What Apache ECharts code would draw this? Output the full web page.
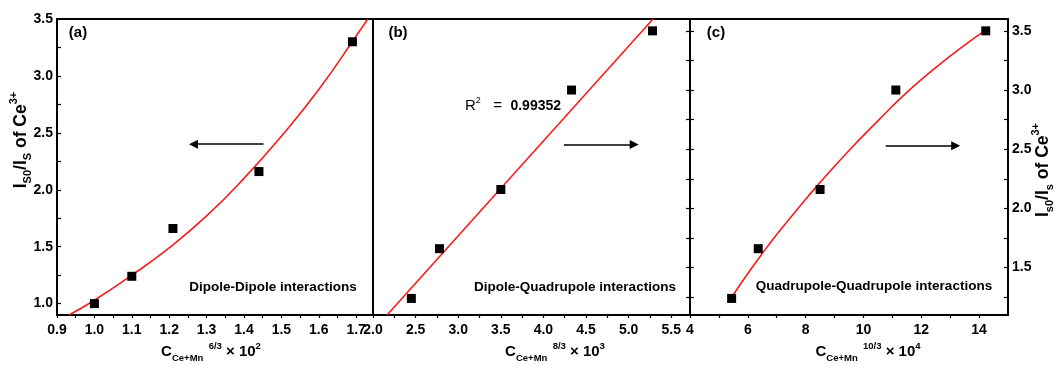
<!DOCTYPE html>
<html>
<head>
<meta charset="utf-8">
<script src="https://cdn.jsdelivr.net/npm/echarts@6/dist/echarts.min.js"></script>
<style>
  html, body { margin: 0; padding: 0; background: #fff; }
  #chart { width: 1055px; height: 365px; }
</style>
</head>
<body>
<div id="chart"></div>
<script>
// ---- Panel (a): dipole-dipole, left axis ----
const xA = [1.0, 1.1, 1.21, 1.44, 1.69];
const yA = [1.0, 1.24, 1.66, 2.16, 3.30];
const fitAx = [0.932, 1.0, 1.1, 1.2, 1.3, 1.4, 1.5, 1.6, 1.7, 1.731];
const fitAy = [0.9, 1.03, 1.25, 1.49, 1.77, 2.1, 2.47, 2.88, 3.35, 3.5];

// ---- Panel (b): dipole-quadrupole, right axis ----
const xB = [2.45, 2.78, 3.5, 4.33, 5.28];
const yB = [1.24, 1.66, 2.16, 3.0, 3.5];
const fitBx = [2.165, 5.286];
const fitBy = [1.1, 3.6];

// ---- Panel (c): quadrupole-quadrupole, right axis ----
const xC = [5.44, 6.36, 8.5, 11.12, 14.23];
const yC = [1.24, 1.66, 2.16, 3.0, 3.5];
const fitCx = [5.44, 6.0, 6.5, 7.0, 7.5, 8.5, 9.5, 10.5, 11.5, 12.5, 13.5, 14.26];
const fitCy = [1.25, 1.45, 1.62, 1.78, 1.93, 2.22, 2.49, 2.74, 2.98, 3.19, 3.38, 3.51];

// ---- Direction arrows (start, end) in data units ----
const arrowA = [[1.452, 2.40], [1.265, 2.40]];
const arrowB = [[4.24, 2.54], [5.065, 2.54]];
const arrowC = [[10.77, 2.53], [13.19, 2.53]];

// ---- Ticks and tick labels ----
const ticksAx = [0.9, 0.95, 1.0, 1.05, 1.1, 1.15, 1.2, 1.25, 1.3, 1.35, 1.4, 1.45, 1.5, 1.55, 1.6, 1.65, 1.7];
const labelsAx = [0.9, 1.0, 1.1, 1.2, 1.3, 1.4, 1.5, 1.6, 1.7];
const ticksBx = [2.0, 2.25, 2.5, 2.75, 3.0, 3.25, 3.5, 3.75, 4.0, 4.25, 4.5, 4.75, 5.0, 5.25, 5.5];
const labelsBx = [2.0, 2.5, 3.0, 3.5, 4.0, 4.5, 5.0, 5.5];
const ticksCx = [4, 5, 6, 7, 8, 9, 10, 11, 12, 13, 14];
const labelsCx = [4, 6, 8, 10, 12, 14];
const ticksLeftY = [1.0, 1.25, 1.5, 1.75, 2.0, 2.25, 2.5, 2.75, 3.0, 3.25, 3.5];
const labelsLeftY = [1.0, 1.5, 2.0, 2.5, 3.0, 3.5];
const ticksRightY = [1.25, 1.5, 1.75, 2.0, 2.25, 2.5, 2.75, 3.0, 3.25, 3.5];
const labelsRightY = [1.5, 2.0, 2.5, 3.0, 3.5];

const FONT = '"Liberation Sans", Arial, Helvetica, sans-serif';
const INK = '#000';
const RED = '#f41c1c';
const FRAME_W = 1.8;

const zip = (xs, ys) => xs.map((x, i) => [x, ys[i]]);

const chart = echarts.init(document.getElementById('chart'), null, { renderer: 'canvas' });

const labelFont = { color: INK, fontFamily: FONT, fontWeight: 'bold', fontSize: 14 };

function xAxisFor(grid, min, max, ticks, labels, fmt) {
  return {
    gridIndex: grid, type: 'value', position: 'bottom', min, max,
    axisLine: { onZero: false, lineStyle: { color: INK, width: FRAME_W } },
    axisTick: { show: true, inside: false, length: 3, customValues: ticks, lineStyle: { color: INK, width: 1.2 } },
    axisLabel: Object.assign({ customValues: labels, formatter: fmt, margin: 8 }, labelFont),
    splitLine: { show: false }
  };
}

function yAxisFor(grid, pos, min, max, ticks, labels, showLabels) {
  return {
    gridIndex: grid, type: 'value', position: pos, min, max,
    axisLine: { onZero: false, lineStyle: { color: INK, width: FRAME_W } },
    axisTick: { show: true, inside: true, length: 4, customValues: ticks, lineStyle: { color: INK, width: 1.2 } },
    axisLabel: Object.assign({ show: showLabels, customValues: labels, formatter: v => v.toFixed(1), margin: 4 }, labelFont),
    splitLine: { show: false }
  };
}

function arrowLine(seg) {
  return {
    silent: true,
    symbol: ['none', 'triangle'],
    symbolSize: 9,
    label: { show: false },
    lineStyle: { color: INK, width: 1.5, type: 'solid' },
    itemStyle: { color: INK },
    emphasis: { disabled: true },
    data: [[{ coord: seg[0] }, { coord: seg[1] }]]
  };
}

function fitSeries(xi, yi, xs, ys, smooth) {
  return {
    type: 'line', xAxisIndex: xi, yAxisIndex: yi, data: zip(xs, ys),
    smooth: smooth, showSymbol: false, symbol: 'none',
    lineStyle: { color: RED, width: 1.6 }, z: 2, silent: true
  };
}

function pointSeries(xi, yi, xs, ys, arrow) {
  return {
    type: 'scatter', xAxisIndex: xi, yAxisIndex: yi, data: zip(xs, ys),
    symbol: 'rect', symbolSize: 9, itemStyle: { color: INK, opacity: 1 }, z: 3,
    markLine: arrowLine(arrow)
  };
}

// Rich-text styles for sub/superscripts
function richSet(main, small) {
  return {
    m: { fontSize: main, fontWeight: 'bold', fontFamily: FONT, lineHeight: main + 7, verticalAlign: 'middle' },
    sub: { fontSize: small, fontWeight: 'bold', fontFamily: FONT, lineHeight: small, verticalAlign: 'bottom' },
    sup: { fontSize: small, fontWeight: 'bold', fontFamily: FONT, lineHeight: small, verticalAlign: 'top' }
  };
}

function richText(x, y, text, rich, rotation) {
  return {
    type: 'text', x, y, rotation: rotation || 0, silent: true,
    style: { text, rich, fill: INK, align: 'center', verticalAlign: 'middle', fontFamily: FONT }
  };
}

function plainText(x, y, text, size) {
  return {
    type: 'text', x, y, silent: true,
    style: { text, fill: INK, fontFamily: FONT, fontWeight: 'bold', fontSize: size, align: 'center', verticalAlign: 'middle' }
  };
}

const yTitleRich = richSet(17.5, 11);
const xTitleRich = richSet(15, 9.5);

const gridBase = { top: 19, height: 296, show: true, borderColor: INK, borderWidth: FRAME_W, backgroundColor: 'transparent', containLabel: false };

const option = {
  animation: false,
  backgroundColor: '#fff',
  grid: [
    Object.assign({ left: 57, width: 316 }, gridBase),
    Object.assign({ left: 373, width: 317 }, gridBase),
    Object.assign({ left: 690, width: 318 }, gridBase)
  ],
  xAxis: [
    xAxisFor(0, 0.9, 1.745, ticksAx, labelsAx, v => v.toFixed(1)),
    xAxisFor(1, 2.0, 5.72, ticksBx, labelsBx, v => v.toFixed(1)),
    xAxisFor(2, 4, 15, ticksCx, labelsCx, v => String(v))
  ],
  yAxis: [
    yAxisFor(0, 'left', 0.9, 3.5, ticksLeftY, labelsLeftY, true),
    yAxisFor(1, 'right', 1.1, 3.6, ticksRightY, labelsRightY, false),
    yAxisFor(2, 'right', 1.1, 3.6, ticksRightY, labelsRightY, true),
    yAxisFor(2, 'left', 1.1, 3.6, ticksRightY, labelsRightY, false)
  ],
  series: [
    fitSeries(0, 0, fitAx, fitAy, true),
    pointSeries(0, 0, xA, yA, arrowA),
    fitSeries(1, 1, fitBx, fitBy, false),
    pointSeries(1, 1, xB, yB, arrowB),
    fitSeries(2, 2, fitCx, fitCy, true),
    pointSeries(2, 2, xC, yC, arrowC)
  ],
  graphic: [
    plainText(78, 33, '(a)', 15),
    plainText(398, 33, '(b)', 15),
    plainText(716, 33, '(c)', 15),
    plainText(273, 287, 'Dipole-Dipole interactions', 13.5),
    plainText(575, 287, 'Dipole-Quadrupole interactions', 13.5),
    plainText(874, 286, 'Quadrupole-Quadrupole interactions', 13.5),
    {
      type: 'text', x: 513, y: 106, silent: true,
      style: {
        text: '{r|R}{s|2}{r|   =  }{b|0.99352}',
        rich: {
          r: { fontSize: 15, fontFamily: FONT, lineHeight: 20, verticalAlign: 'middle' },
          s: { fontSize: 9, fontFamily: FONT, lineHeight: 9, verticalAlign: 'top' },
          b: { fontSize: 14, fontWeight: 'bold', fontFamily: FONT, lineHeight: 20, verticalAlign: 'middle' }
        },
        fill: INK, align: 'center', verticalAlign: 'middle'
      }
    },
    richText(21, 140, '{m|I}{sub|S0}{m|/I}{sub|S}{m| of Ce}{sup|3+}', yTitleRich, Math.PI / 2),
    richText(1043, 170, '{m|I}{sub|s0}{m|/I}{sub|s}{m| of Ce}{sup|3+}', yTitleRich, Math.PI / 2),
    richText(211, 352, '{m|C}{sub|Ce+Mn}{sup|  6/3}{m| × 10}{sup|2}', xTitleRich),
    richText(555, 352, '{m|C}{sub|Ce+Mn}{sup|  8/3}{m| × 10}{sup|3}', xTitleRich),
    richText(868, 352, '{m|C}{sub|Ce+Mn}{sup|  10/3}{m| × 10}{sup|4}', xTitleRich)
  ]
};

chart.setOption(option);
</script>
</body>
</html>
